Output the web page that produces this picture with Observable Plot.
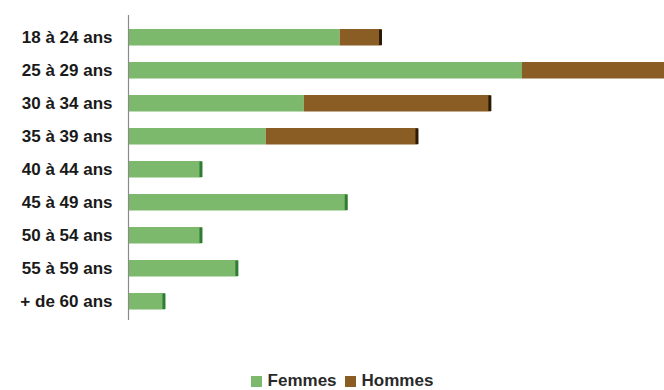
<!DOCTYPE html>
<html><head><meta charset="utf-8">
<script src="https://cdn.jsdelivr.net/npm/d3@7"></script>
<script src="https://cdn.jsdelivr.net/npm/@observablehq/plot@0.6"></script>
<style>
body{margin:0;background:#fff;font-family:"Liberation Sans",Arial,sans-serif;}
#legend{display:flex;justify-content:center;align-items:center;height:22px;padding-left:28px;font-size:17px;font-weight:bold;color:#2a2a2a;}
#legend span.sw{display:inline-block;width:11px;height:11px;margin-right:6px;}
#legend .item{display:flex;align-items:center;margin-right:8px;}
</style></head>
<body><div id="chart"></div><div id="legend"></div>
<script>
const categories = ["18 à 24 ans","25 à 29 ans","30 à 34 ans","35 à 39 ans","40 à 44 ans","45 à 49 ans","50 à 54 ans","55 à 59 ans","+ de 60 ans"];
const femmes = [39.5, 73.5, 32.8, 25.7, 13.8, 40.9, 13.8, 20.5, 6.9];
const hommes = [7.8, 27.5, 34.9, 28.4, 0, 0, 0, 0, 0];
const series = ["Femmes","Hommes"];
const colors = ["#7cb96c","#8a5d24"];
const capColors = ["#2f7d33","#2a1a08"];

const rows = [];
categories.forEach((c,i)=>{
  rows.push({cat:c, s:"Femmes", x1:0, x2:femmes[i]});
  if (hommes[i]>0) rows.push({cat:c, s:"Hommes", x1:femmes[i], x2:femmes[i]+hommes[i]});
});
const caps = categories.map((c,i)=>({cat:c, x: femmes[i]+hommes[i], s: hommes[i]>0?"Hommes":"Femmes"}));

const plot = Plot.plot({
  width:664, height:370,
  marginLeft:128, marginRight:0, marginTop:15, marginBottom:50,
  style:{fontFamily:"Liberation Sans, Arial, sans-serif", fontSize:"17px", color:"#222"},
  x:{domain:[0,100], axis:null},
  y:{domain:categories, range:[18,320], padding:0, label:null},
  marks:[
    Plot.barX(rows,{y:"cat", x1:"x1", x2:"x2", fill:d=>colors[series.indexOf(d.s)], insetTop:8, insetBottom:8.5}),
    Plot.tickX(caps,{y:"cat", x:"x", stroke:d=>capColors[series.indexOf(d.s)], strokeWidth:3, dx:-1.5, insetTop:8.5, insetBottom:9}),
    Plot.ruleX([0],{stroke:"#8a8a8a", strokeWidth:1.2}),
    Plot.axisY({tickSize:0, tickPadding:16, fontSize:17, fill:"#1a1a1a", fontWeight:"bold", letterSpacing:"0.3px"})
  ]
});
document.getElementById("chart").appendChild(plot);

const lg = document.getElementById("legend");
series.forEach((s,i)=>{
  const it = document.createElement("div"); it.className="item";
  const sw = document.createElement("span"); sw.className="sw"; sw.style.background=colors[i];
  it.appendChild(sw); it.appendChild(document.createTextNode(s)); lg.appendChild(it);
});
</script></body></html>
